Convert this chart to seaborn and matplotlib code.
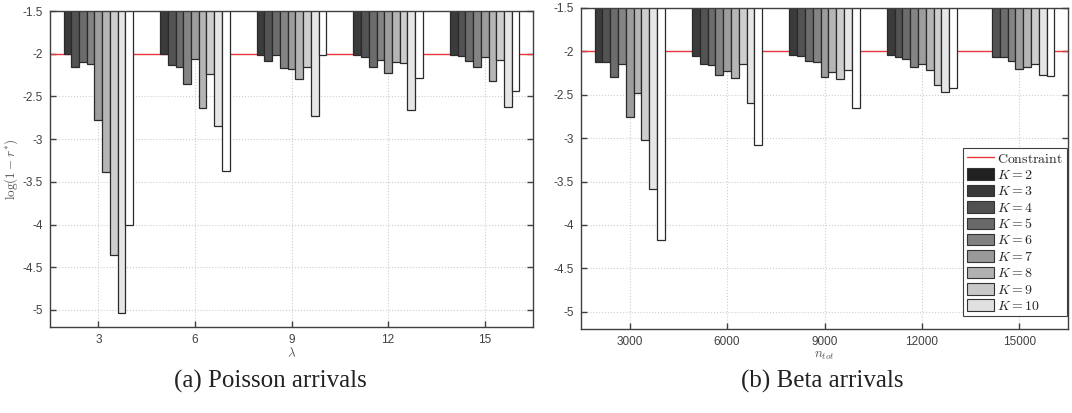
import numpy as np
import pandas as pd
import matplotlib
matplotlib.use('Agg')
import matplotlib.pyplot as plt
import seaborn as sns
from matplotlib.patches import Patch
from matplotlib.lines import Line2D

# ---- data ----
k_labels = [f"K={k}" for k in range(2, 11)]

lam = [3, 6, 9, 12, 15]
poisson = [
    [-2.00, -2.16, -2.10, -2.12, -2.78, -3.39, -4.36, -5.04, -4.00],   # lambda = 3
    [-2.00, -2.13, -2.15, -2.36, -2.06, -2.64, -2.24, -2.85, -3.37],   # lambda = 6
    [-2.02, -2.09, -2.02, -2.17, -2.18, -2.30, -2.16, -2.73, -2.02],   # lambda = 9
    [-2.02, -2.04, -2.15, -2.07, -2.23, -2.10, -2.11, -2.66, -2.28],   # lambda = 12
    [-2.01, -2.03, -2.09, -2.15, -2.04, -2.32, -2.07, -2.62, -2.44],   # lambda = 15
]

n_tot = [3000, 6000, 9000, 12000, 15000]
beta = [
    [-2.12, -2.12, -2.29, -2.15, -2.76, -2.48, -3.02, -3.59, -4.17],
    [-2.05, -2.14, -2.16, -2.27, -2.23, -2.31, -2.15, -2.60, -3.08],
    [-2.04, -2.05, -2.11, -2.12, -2.30, -2.24, -2.32, -2.22, -2.65],
    [-2.04, -2.07, -2.09, -2.18, -2.14, -2.21, -2.39, -2.47, -2.42],
    [np.nan, -2.06, -2.07, -2.11, -2.20, -2.18, -2.15, -2.27, -2.28],
]

constraint = -2.0
captions = ["(a) Poisson arrivals", "(b) Beta arrivals"]


def to_frame(xs, values):
    rows = []
    for x, vals in zip(xs, values):
        for k, v in zip(k_labels, vals):
            rows.append({"x": x, "val": v, "K": k})
    return pd.DataFrame(rows)


sns.set_style("white")
plt.rcParams["font.family"] = ["Liberation Sans", "DejaVu Sans"]
plt.rcParams["mathtext.fontset"] = "cm"
plt.rcParams.update({"xtick.bottom": True, "xtick.top": True,
                     "ytick.left": True, "ytick.right": True,
                     "xtick.direction": "in", "ytick.direction": "in"})

bar_colors = [str(g) for g in np.linspace(0.23, 1.0, 9)]
legend_colors = [str(g) for g in np.linspace(0.13, 0.88, 9)]
axis_col = "#404040"

W, H = 1072, 413
fig = plt.figure(figsize=(W / 100, H / 100), dpi=100)
ax_a = fig.add_axes([50 / W, 1 - 327 / H, (533 - 50) / W, (327 - 11) / H])
ax_b = fig.add_axes([581 / W, 1 - 329 / H, (1068 - 581) / W, (329 - 8) / H])

panels = [
    (ax_a, to_frame(lam, poisson), lam, (1.5, 16.5), r"$\lambda$"),
    (ax_b, to_frame(n_tot, beta), n_tot, (1500, 16500), r"$n_{tot}$"),
]

for ax, df, xt, xlim, xlab in panels:
    ax.grid(True, linestyle=":", color="#cfcfcf", linewidth=0.8)
    ax.set_axisbelow(True)
    ax.axhline(constraint, color="#e8383d", linewidth=1.0, zorder=1.5)
    sns.barplot(data=df, x="x", y="val", hue="K", hue_order=k_labels,
                palette=bar_colors, native_scale=True, width=0.72, gap=0,
                edgecolor="#2a2a2a", linewidth=0.9, errorbar=None,
                legend=False, ax=ax, zorder=2)
    ax.set_xlim(*xlim)
    ax.set_ylim(-5.2, -1.5)
    ax.set_xticks(xt)
    ax.set_xticklabels([str(v) for v in xt])
    ax.set_yticks([-1.5, -2, -2.5, -3, -3.5, -4, -4.5, -5])
    ax.set_yticklabels(["-1.5", "-2", "-2.5", "-3", "-3.5", "-4", "-4.5", "-5"])
    ax.tick_params(direction="in", length=4, width=1.0, colors=axis_col,
                   labelsize=8.5, bottom=True, left=True, top=True, right=True,
                   pad=5)
    for s in ax.spines.values():
        s.set_visible(True)
        s.set_color(axis_col)
        s.set_linewidth(1.0)
    ax.set_xlabel(xlab, fontsize=9.5, color="#555555", labelpad=1)
    ax.set_ylabel("")

ax_a.set_ylabel(r"$\log(1-r^{*})$", fontsize=9.5, color="#555555", labelpad=2)

handles = [Line2D([0], [0], color="#e8383d", linewidth=1.0)]
handles += [Patch(facecolor=c, edgecolor="#333333", linewidth=0.8) for c in legend_colors]
labels = [r"$\mathrm{Constraint}$"] + [f"$K = {k}$" for k in range(2, 11)]
leg = ax_b.legend(handles, labels, loc="lower right", bbox_to_anchor=(1.0, 0.035),
                  borderaxespad=0.1, fontsize=10, handlelength=2.0, handleheight=0.9,
                  handletextpad=0.2, labelspacing=0.17, borderpad=0.25,
                  fancybox=False, framealpha=1, edgecolor=axis_col)
leg.get_frame().set_linewidth(0.8)

for xc, cap in zip([270, 822], captions):
    fig.text(xc / W, 1 - 381 / H, cap, ha="center", va="center",
             fontsize=18, family=["Liberation Serif", "DejaVu Serif"], color="#222222")

fig.savefig("out.png", dpi=100)
